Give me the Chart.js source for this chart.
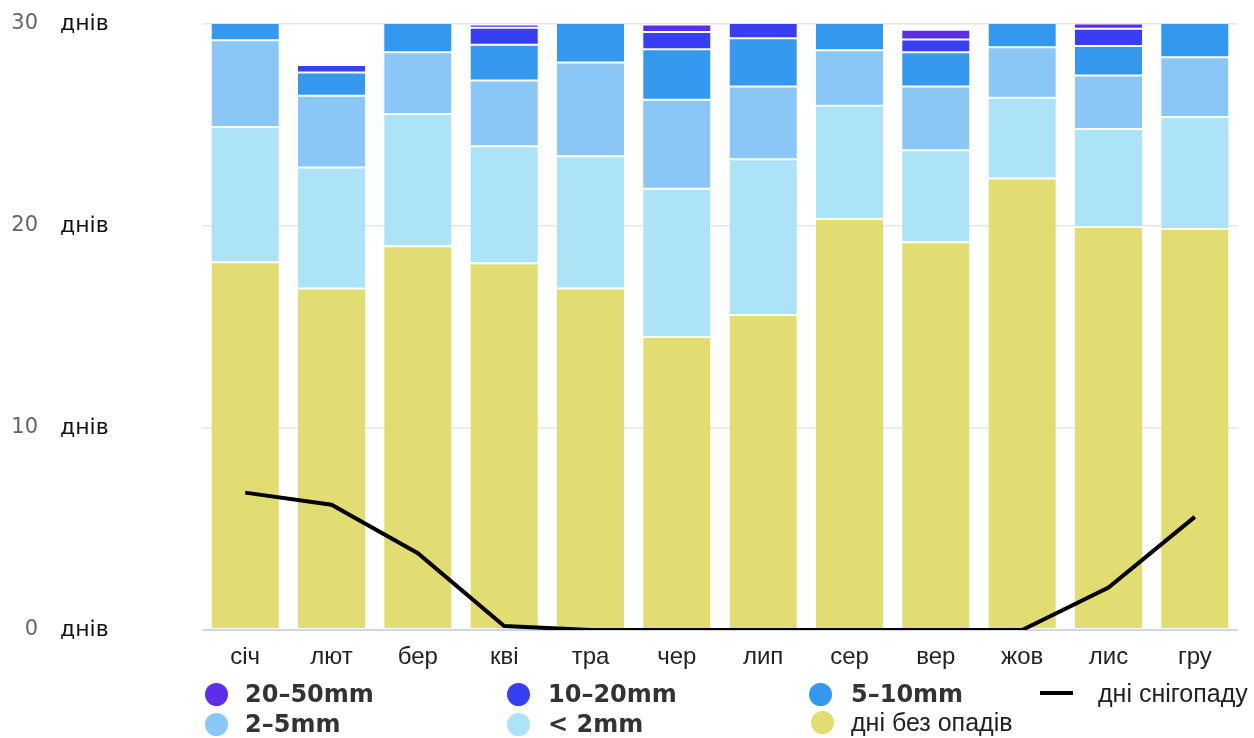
<!DOCTYPE html>
<html>
<head>
<meta charset="utf-8">
<script src="https://cdn.jsdelivr.net/npm/chart.js@4.4.1/dist/chart.umd.min.js"></script>
<style>
  html, body { margin: 0; padding: 0; background: #ffffff; }
  #wrap { position: relative; width: 1254px; height: 738px; }
  #c { position: absolute; left: 0; top: 0; }
  .lg { position: absolute; display: flex; align-items: center; white-space: nowrap; color: #333; }
  .dot { position: absolute; width: 23px; height: 23px; border-radius: 50%; }
  .bar { position: absolute; width: 33px; height: 4px; background: #000; }
  .bold { font-family: 'DejaVu Sans', sans-serif; font-weight: bold; font-size: 24px; }
  .reg { font-family: 'Liberation Sans', Arial, sans-serif; font-size: 25px; color: #222; }
</style>
</head>
<body>
<div id="wrap">
  <canvas id="c" width="1254" height="738"></canvas>
  <div id="legend"></div>
</div>
<script>
// ---- data ----
const months = ['січ', 'лют', 'бер', 'кві', 'тра', 'чер', 'лип', 'сер', 'вер', 'жов', 'лис', 'гру'];
const dryDays   = [18.2, 16.9, 19.0, 18.15, 16.9, 14.5, 15.6, 20.35, 19.2, 22.35, 19.95, 19.85];
const under2mm  = [6.7, 6.0, 6.55, 5.8, 6.55, 7.35, 7.7, 5.6, 4.55, 4.0, 4.85, 5.55];
const mm2to5    = [4.3, 3.55, 3.05, 3.25, 4.65, 4.4, 3.6, 2.75, 3.15, 2.5, 2.65, 2.95];
const mm5to10   = [1.5, 1.15, 1.9, 1.77, 2.2, 2.5, 2.4, 1.8, 1.7, 1.7, 1.46, 2.1];
const mm10to20  = [0.28, 0.37, 0.4, 0.84, 0.6, 0.86, 1.2, 0.45, 0.63, 0.35, 0.86, 0.45];
const mm20to50  = [0.02, 0, 0.1, 0.17, 0.14, 0.37, 0.5, 0.06, 0.48, 0.05, 0.25, 0.08];
const snowDays  = [6.8, 6.2, 3.8, 0.2, 0, 0, 0, 0, 0, 0, 2.1, 5.6];
const yTicks    = [0, 10, 20, 30];
const yUnit     = 'днів';

const labels = {
  dry: 'дні без опадів', lt2: '< 2mm', m25: '2–5mm', m510: '5–10mm',
  m1020: '10–20mm', m2050: '20–50mm', snow: 'дні снігопаду'
};
const colors = {
  dry: '#e1dd72', lt2: '#ade3f6', m25: '#8ac7f7', m510: '#3398ee',
  m1020: '#383ff0', m2050: '#5d2ee8', snow: '#000000'
};

function barDs(key, data) {
  return {
    type: 'bar', label: labels[key], data: data, backgroundColor: colors[key],
    borderColor: '#ffffff', borderWidth: { top: 1, bottom: 1, left: 0, right: 0 },
    borderSkipped: false, stack: 'rain', order: 1, yAxisID: 'y'
  };
}

const datasets = [
  barDs('dry', dryDays),
  barDs('lt2', under2mm),
  barDs('m25', mm2to5),
  barDs('m510', mm5to10),
  barDs('m1020', mm10to20),
  barDs('m2050', mm20to50),
  {
    type: 'line', label: labels.snow, data: snowDays, borderColor: colors.snow,
    backgroundColor: colors.snow, borderWidth: 4, pointRadius: 0, tension: 0,
    stack: 'snow', order: 0, yAxisID: 'y'
  }
];

const chart = new Chart(document.getElementById('c'), {
  data: { labels: months, datasets: datasets },
  options: {
    responsive: false,
    animation: false,
    layout: { padding: { left: 12, right: 16, top: 24, bottom: 0 } },
    plugins: { legend: { display: false }, tooltip: { enabled: false } },
    datasets: { bar: { categoryPercentage: 1.0, barPercentage: 0.78 } },
    scales: {
      x: {
        stacked: true,
        grid: { display: false },
        border: { display: false },
        ticks: { color: '#222', font: { family: 'Liberation Sans', size: 24 }, padding: 5, maxRotation: 0 },
        afterFit: (s) => { s.height = 108; }
      },
      y: {
        position: 'left',
        weight: 1,
        stacked: true,
        min: 0, max: 30,
        afterBuildTicks: (s) => { s.ticks = yTicks.map(v => ({ value: v })); },
        ticks: { color: '#666', font: { family: 'DejaVu Sans', size: 21, lineHeight: 0.1 }, padding: 22 },
        grid: {
          drawTicks: false,
          color: (ctx) => ctx.tick && ctx.tick.value === 0 ? '#ccd6eb' : '#e6e6e6',
          lineWidth: (ctx) => ctx.tick && ctx.tick.value === 0 ? 2 : 1.5
        },
        border: { display: false },
        afterFit: (s) => { s.width = 48; }
      },
      y2: {
        position: 'left',
        weight: 0,
        min: 0, max: 30,
        afterBuildTicks: (s) => { s.ticks = yTicks.map(v => ({ value: v })); },
        ticks: { color: '#111', font: { family: 'DejaVu Sans', size: 22, lineHeight: 0.1 }, padding: 0, crossAlign: 'far', callback: () => yUnit },
        grid: { display: false, drawTicks: false },
        border: { display: false },
        afterFit: (s) => { s.width = 142; }
      }
    }
  }
});

// ---- HTML legend built from the chart's datasets ----
const legendPlaces = [
  { label: labels.m2050, dotX: 205, textX: 245, y: 694, bold: true },
  { label: labels.m1020, dotX: 507, textX: 548, y: 694, bold: true },
  { label: labels.m510,  dotX: 809, textX: 851, y: 694, bold: true },
  { label: labels.snow,  dotX: 1040, textX: 1098, y: 693, bold: false, line: true },
  { label: labels.m25,   dotX: 205, textX: 245, y: 724, bold: true },
  { label: labels.lt2,   dotX: 507, textX: 548, y: 724, bold: true },
  { label: labels.dry,   dotX: 811, textX: 851, y: 722, bold: false }
];
const legendEl = document.getElementById('legend');
legendPlaces.forEach(p => {
  const ds = chart.data.datasets.find(d => d.label === p.label);
  const mark = document.createElement('div');
  if (p.line) {
    mark.className = 'bar';
    mark.style.left = p.dotX + 'px';
    mark.style.top = (p.y - 2) + 'px';
    mark.style.background = ds.borderColor;
  } else {
    mark.className = 'dot';
    mark.style.left = p.dotX + 'px';
    mark.style.top = (p.y - 11.5) + 'px';
    mark.style.background = ds.backgroundColor;
  }
  legendEl.appendChild(mark);
  const t = document.createElement('div');
  t.className = 'lg ' + (p.bold ? 'bold' : 'reg');
  t.textContent = ds.label;
  t.style.left = p.textX + 'px';
  t.style.top = (p.y - 15) + 'px';
  t.style.height = '30px';
  legendEl.appendChild(t);
});
</script>
</body>
</html>
